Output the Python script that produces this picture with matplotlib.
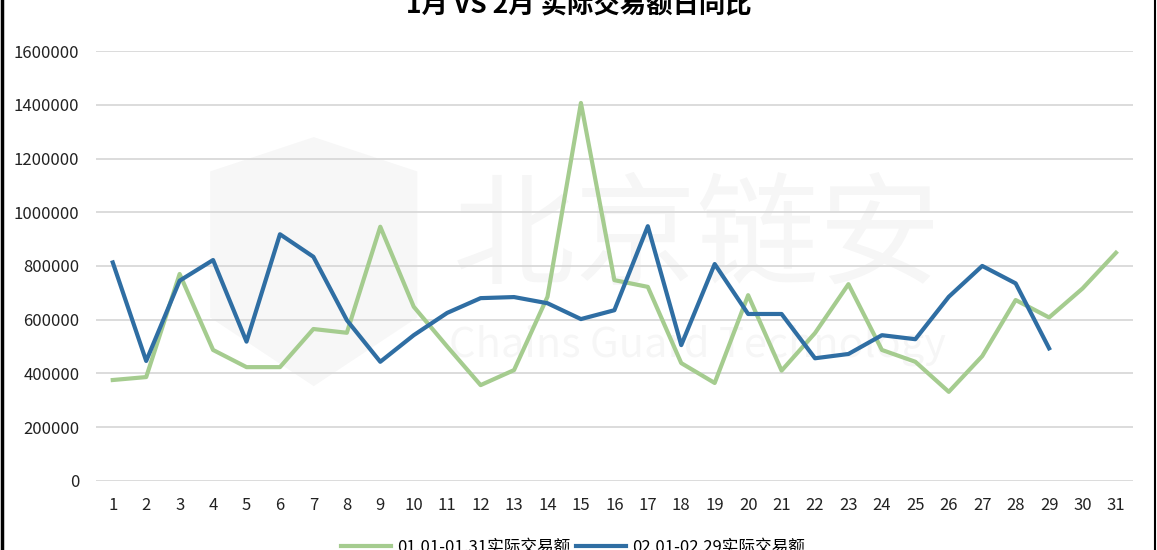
import matplotlib
matplotlib.use("Agg")
import matplotlib.pyplot as plt
from matplotlib.lines import Line2D

plt.rcParams['font.family'] = ['Noto Sans CJK SC', 'DejaVu Sans']

days = list(range(1, 32))
jan = [375000, 386000, 770000, 487000, 423000, 423000, 565000, 551000, 946000, 648000,
       500000, 356000, 412000, 685000, 1407000, 747000, 722000, 438000, 364000, 691000,
       410000, 550000, 732000, 487000, 443000, 331000, 464000, 673000, 608000, 716000, 849000]
feb = [813000, 446000, 745000, 822000, 518000, 918000, 834000, 598000, 443000, 542000,
       625000, 680000, 684000, 661000, 602000, 635000, 948000, 505000, 807000, 621000,
       621000, 456000, 472000, 542000, 527000, 685000, 800000, 735000, 493000]
jan_label = "01.01-01.31实际交易额"
feb_label = "02.01-02.29实际交易额"
title = "1月 VS 2月 实际交易额日同比"

fig = plt.figure(figsize=(11.57, 5.5), dpi=100)
ax = fig.add_axes([0.083, 0.126, 0.896, 0.781])

# faint watermark (logo + company name)
shield = [(0.11, 0.72), (0.21, 0.80), (0.31, 0.72), (0.31, 0.38), (0.21, 0.22), (0.11, 0.38)]
ax.add_patch(plt.Polygon(shield, closed=True, transform=ax.transAxes,
                         facecolor='#000000', alpha=0.03, edgecolor='none', zorder=0))
ax.text(0.58, 0.56, "北京链安", transform=ax.transAxes, fontsize=88, color='#000000',
        alpha=0.035, ha='center', va='center', zorder=0)
ax.text(0.58, 0.315, "Chains Guard Technology", transform=ax.transAxes, fontsize=30,
        color='#000000', alpha=0.035, ha='center', va='center', zorder=0)

ax.plot(days, jan, color='#a5cc8f', lw=3.0, label=jan_label, zorder=3)
ax.plot(days[:len(feb)], feb, color='#2f6ea3', lw=3.0, label=feb_label, zorder=4)

ax.set_xlim(0.5, 31.5)
ax.set_ylim(0, 1600000)
ax.set_yticks(range(0, 1600001, 200000))
ax.set_yticklabels([str(v) for v in range(0, 1600001, 200000)])
ax.set_xticks(days)
ax.grid(axis='y', color='#d9d9d9', lw=1.3)
ax.set_axisbelow(True)
for s in ax.spines.values():
    s.set_visible(False)
ax.tick_params(length=0, labelsize=12, colors='#222222')
ax.tick_params(axis='x', pad=12)
ax.tick_params(axis='y', pad=12)

fig.text(0.5, 0.99, title, ha='center', va='center', fontsize=19, fontweight='bold')

ax.legend(loc='center', bbox_to_anchor=(0.46, -0.155), ncol=2, frameon=False,
          fontsize=12, handlelength=3.0, columnspacing=0.3, handletextpad=0.4)

fig.add_artist(Line2D([0.0015, 0.0015], [0, 1], color='black', lw=2.5))
fig.add_artist(Line2D([0.9985, 0.9985], [0, 1], color='black', lw=1.5))

fig.savefig("out.png", dpi=100)
